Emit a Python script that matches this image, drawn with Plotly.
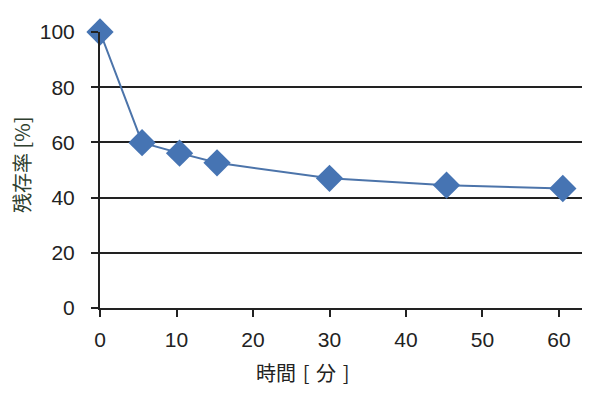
import plotly.graph_objects as go

time_min = [0, 5.5, 10.4, 15.3, 30, 45.3, 60.5]
residual_pct = [100, 59.9, 56.1, 52.6, 47.0, 44.5, 43.3]
x_ticks = [0, 10, 20, 30, 40, 50, 60]
y_ticks = [0, 20, 40, 60, 80, 100]
x_title = "時間\u2004[\u2004分\u2004]"
y_title = "残存率 [%]"

fig = go.Figure()
fig.add_trace(go.Scatter(
    x=time_min, y=residual_pct, mode="lines+markers",
    line=dict(color="#4c74aa", width=2),
    marker=dict(symbol="diamond", size=21, color="#4674b3"),
    cliponaxis=False,
))

font = "Liberation Sans, Arial, sans-serif"
# page body has an 8px margin, so the figure is 582x387 and placed at (8, 8)
fig.update_layout(
    width=582, height=387,
    margin=dict(l=92, r=5, t=24, b=87, autoexpand=False),
    paper_bgcolor="white", plot_bgcolor="white",
    showlegend=False,
    font=dict(family=font, color="#222", size=21),
    xaxis=dict(
        range=[0, 63.4], tickvals=x_ticks, ticks="outside", ticklen=7,
        tickwidth=2, tickcolor="#222", showgrid=False, zeroline=False,
        showline=True, linecolor="#222", linewidth=2, automargin=False,
        ticklabelstandoff=5,
        tickfont=dict(size=21, color="#222"),
    ),
    yaxis=dict(
        range=[0, 100], tickvals=y_ticks, ticks="outside", ticklen=7,
        tickwidth=2, tickcolor="#222", showgrid=True, gridcolor="#222",
        gridwidth=2, zeroline=False, showline=True, linecolor="#222",
        linewidth=2, automargin=False, ticklabelstandoff=12,
        tickfont=dict(size=21, color="#222"),
    ),
    annotations=[
        dict(text=x_title, xref="paper", yref="paper", x=(303 - 100) / 485,
             y=-64 / 276, xanchor="center", yanchor="middle", showarrow=False,
             font=dict(size=20, color="#222", family="Noto Sans CJK JP")),
        dict(text=y_title, xref="paper", yref="paper", x=(21 - 100) / 485,
             y=(308 - 165) / 276, xanchor="center", yanchor="middle",
             textangle=-90, showarrow=False,
             font=dict(size=20, color="#2f3f2f", family="Noto Sans CJK JP")),
    ],
)
fig.write_html("out.html")
